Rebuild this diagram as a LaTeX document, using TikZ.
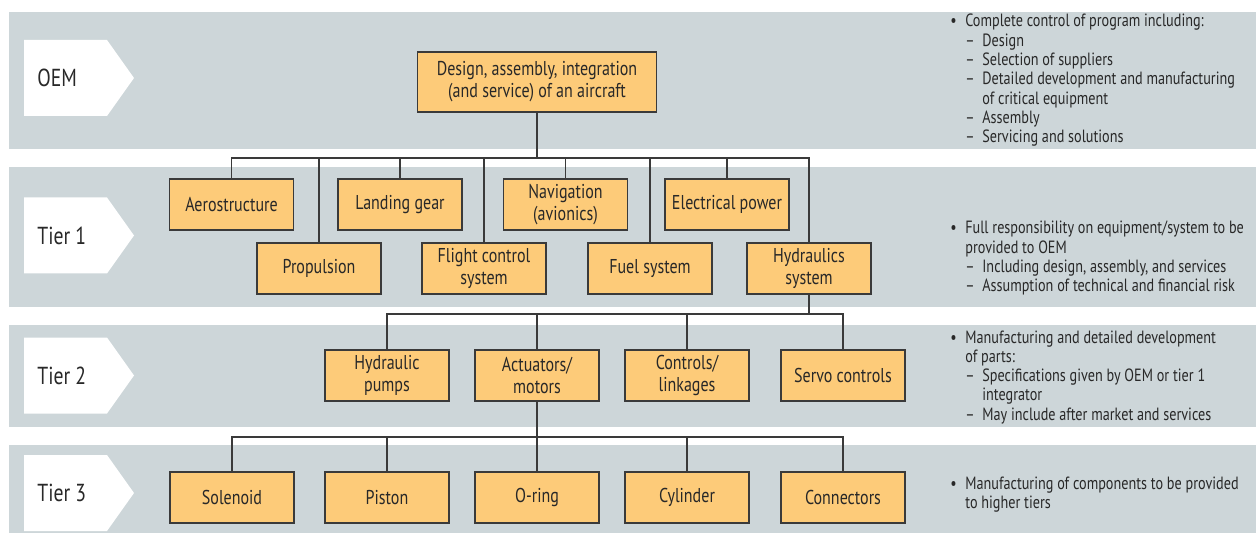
\documentclass[tikz,border=0pt]{standalone}
\usepackage{fontspec}
\setmainfont{PT Sans}[FakeStretch=0.8]
\usepackage{xcolor}
\definecolor{tierband}{RGB}{205,214,217}
\definecolor{tierbox}{RGB}{253,203,121}
\definecolor{tierline}{RGB}{58,58,58}
\definecolor{tiertext}{RGB}{40,40,40}
\usetikzlibrary{positioning}
\tikzset{
  partbox/.style={draw=tierline,fill=tierbox,line width=0.7pt,minimum width=2.48cm,minimum height=1.02cm,inner sep=0pt,align=center,text=tiertext,font=\fontsize{11.4}{12.4}\selectfont},
  link/.style={draw=tierline,line width=0.75pt},
  tierlab/.style={anchor=west,inner sep=0pt,text=tiertext,font=\fontsize{14}{16}\selectfont},
  notes/.style={anchor=base west,inner sep=0pt,text=tiertext,font=\fontsize{10.1}{11}\selectfont}
}

\begin{document}
\begin{tikzpicture}[x=0.02cm,y=-0.02cm]
  \useasboundingbox (0,0) rectangle (1256,533);
  % bands and tier labels
  \foreach \name/\top/\bot/\mid/\lab in {oem/12/149/78/OEM, one/167/307/235.5/Tier 1, two/325/427/375.5/Tier 2, three/445/533/493/Tier 3}{
    \fill[tierband] (9,\top) rectangle (1256,\bot);
    \fill[white] (24,\mid-38) -- (107,\mid-38) -- (134,\mid) -- (107,\mid+38) -- (24,\mid+38) -- cycle;
    \node[tierlab] (lab\name) at (37,\mid) {\lab};
  }
  \coordinate (busA) at (0,158);
  \coordinate (busB) at (0,314);
  \coordinate (busC) at (0,437);

  \node[partbox,minimum width=4.78cm,minimum height=1.2cm] (oem) at (537,82) {Design, assembly, integration\\(and service) of an aircraft};
  \foreach \name/\x/\y/\txt in {aero/231.5/204.5/Aerostructure, land/400/204.5/Landing gear, nav/565.5/204.5/{Navigation\\(avionics)}, elec/727/204.5/Electrical power,
    prop/319/268.5/Propulsion, flight/484/268.5/{Flight control\\system}, fuel/650/268.5/Fuel system, hyd/809/268.5/{Hydraulics\\system},
    pumps/387/375.5/{Hydraulic\\pumps}, act/537/375.5/{Actuators/\\motors}, ctrl/687/375.5/{Controls/\\linkages}, servo/843/375.5/Servo controls,
    sol/232/497.5/Solenoid, pis/387/497.5/Piston, oring/537/497.5/O-ring, cyl/687/497.5/Cylinder, conn/843/497.5/Connectors}{
    \node[partbox] (\name) at (\x,\y) {\txt};
  }

  % connectors
  \foreach \c in {aero,prop,land,flight,nav,fuel,elec,hyd}
    \draw[link] (oem.south) |- (\c.north |- busA) -- (\c.north);
  \foreach \c in {pumps,act,ctrl,servo}
    \draw[link] (hyd.south) |- (\c.north |- busB) -- (\c.north);
  \foreach \c in {sol,pis,oring,cyl,conn}
    \draw[link] (act.south) |- (\c.north |- busC) -- (\c.north);

  % notes on the right
  \node[notes] (noteoem) at (950,27) {\begin{tabular}[t]{@{}p{3mm}@{}p{3.4mm}@{}l@{}}
    \textbullet & \multicolumn{2}{@{}l@{}}{Complete control of program including:}\\
    & – & Design\\
    & – & Selection of suppliers\\
    & – & Detailed development and manufacturing\\
    & & of critical equipment\\
    & – & Assembly\\
    & – & Servicing and solutions
  \end{tabular}};
  \node[notes] (noteone) at (950,234) {\begin{tabular}[t]{@{}p{3mm}@{}p{3.4mm}@{}l@{}}
    \textbullet & \multicolumn{2}{@{}l@{}}{Full responsibility on equipment/system to be}\\
    & \multicolumn{2}{@{}l@{}}{provided to OEM}\\
    & – & Including design, assembly, and services\\
    & – & Assumption of technical and financial risk
  \end{tabular}};
  \node[notes] (notetwo) at (950,343) {\begin{tabular}[t]{@{}p{3mm}@{}p{3.4mm}@{}l@{}}
    \textbullet & \multicolumn{2}{@{}l@{}}{Manufacturing and detailed development}\\
    & \multicolumn{2}{@{}l@{}}{of parts:}\\
    & – & Specifications given by OEM or tier 1\\
    & & integrator\\
    & – & May include after market and services
  \end{tabular}};
  \node[notes] (notethree) at (950,489) {\begin{tabular}[t]{@{}p{3mm}@{}p{3.4mm}@{}l@{}}
    \textbullet & \multicolumn{2}{@{}l@{}}{Manufacturing of components to be provided}\\
    & \multicolumn{2}{@{}l@{}}{to higher tiers}
  \end{tabular}};
\end{tikzpicture}
\end{document}
